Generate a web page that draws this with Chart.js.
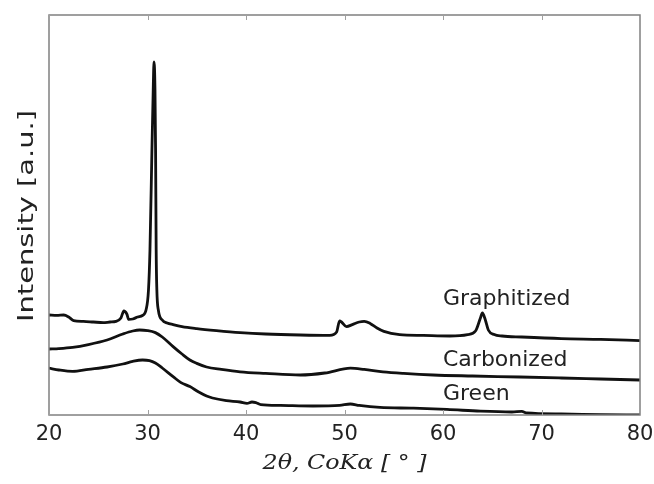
<!DOCTYPE html>
<html><head><meta charset="utf-8">
<script src="https://cdn.jsdelivr.net/npm/chart.js@4"></script>
<style>html,body{margin:0;padding:0;background:#fff}</style>
</head><body>
<canvas id="c" width="654" height="484"></canvas>
<script>
// ---- data ----
const xTickValues = [20, 30, 40, 50, 60, 70, 80];
const seriesNames = ['Graphitized', 'Carbonized', 'Green'];

const graphitizedX = [20.0,20.8,21.5,22.0,22.5,23.5,24.5,25.5,26.2,26.8,27.3,27.6,27.9,28.1,28.5,29.0,29.5,29.85,30.1,30.25,30.45,30.58,30.66,30.76,30.82,30.88,30.95,31.1,31.5,32.0,32.6,33.5,35.0,37.0,39.4,42.0,45.5,48.5,49.2,49.5,49.7,50.2,50.8,51.5,52.0,52.6,53.3,54.0,55.6,58.0,60.7,62.5,63.3,63.8,64.0,64.3,64.6,65.2,66.0,68.0,72.0,76.0,80.0];
const graphitizedY = [25,24.9,25,24.5,23.6,23.4,23.25,23.1,23.25,23.4,24.25,26,25.25,23.9,24,24.5,24.9,26.25,31.25,41.25,66.25,81.25,88.25,81.25,66.25,41.25,31.25,26.25,23.75,23,22.6,22.1,21.6,21.1,20.6,20.25,20,19.9,20.75,23.5,23.25,22.1,22.6,23.25,23.4,22.9,21.75,20.9,20.1,19.9,19.75,20.1,21,24.25,25.5,23.75,21.25,20.1,19.75,19.5,19.1,18.9,18.6];

const carbonizedX = [20,21.0,22.4,24.0,25.9,27.5,28.5,29.2,30.0,30.8,31.5,32.6,33.5,34.3,35.0,36.0,37.5,39.4,42.0,45.5,48.0,50.6,52.0,53.9,56.0,59.0,63.0,67.8,72.0,76.0,80.0];
const carbonizedY = [16.5,16.6,16.9,17.6,18.75,20.25,21,21.25,21.1,20.6,19.5,17.1,15.25,13.75,12.9,12,11.4,10.8,10.4,10,10.5,11.7,11.4,10.8,10.4,10,9.75,9.5,9.25,9,8.75];

const greenX = [20,21.0,22.4,24.0,25.9,27.5,28.5,29.5,30.2,30.8,31.5,32.6,33.4,34.3,35.2,36.0,36.6,38.0,39.4,40.1,40.6,41.0,41.5,43.5,46.8,49.5,50.6,51.5,53.6,57.0,60.4,63.8,67.0,68.0,68.5,72.0,76.0,80.0];
const greenY = [11.7,11.25,10.9,11.4,12,12.75,13.4,13.75,13.6,13,11.75,9.6,8.1,7.1,5.75,4.75,4.25,3.6,3.25,2.9,3.25,3.1,2.6,2.4,2.25,2.4,2.75,2.4,1.9,1.7,1.4,0.95,0.75,0.9,0.5,0.25,0.1,0];

const xTitle = '2θ, CoKα [ ° ]';
const yTitle = 'Intensity [a.u.]';

// ---- build ----
const toPts = (xs, ys) => xs.map((x, i) => ({x, y: ys[i]}));
const seriesData = [toPts(graphitizedX, graphitizedY), toPts(carbonizedX, carbonizedY), toPts(greenX, greenY)];

// label anchors (data coordinates) for the in-plot series names
const labelAnchors = [{x: 60, y: 27.5}, {x: 60, y: 12.3}, {x: 60, y: 3.75}];

const framePlugin = {
  id: 'frame',
  afterDatasetsDraw(chart) {
    const {ctx, chartArea: a, scales} = chart;
    ctx.save();
    ctx.strokeStyle = '#808080';
    ctx.lineWidth = 1.5;
    ctx.strokeRect(a.left, a.top, a.right - a.left, a.bottom - a.top);
    ctx.lineWidth = 1;
    ctx.strokeStyle = '#a0a0a0';
    scales.x.ticks.forEach(t => {
      const px = Math.round(scales.x.getPixelForValue(t.value)) + 0.5;
      ctx.beginPath();
      ctx.moveTo(px, a.bottom); ctx.lineTo(px, a.bottom - 5);
      ctx.moveTo(px, a.top); ctx.lineTo(px, a.top + 5);
      ctx.stroke();
    });
    // series names
    ctx.fillStyle = '#222';
    ctx.font = '22px "DejaVu Sans"';
    ctx.textAlign = 'left';
    ctx.textBaseline = 'alphabetic';
    seriesNames.forEach((n, i) => {
      ctx.fillText(n, scales.x.getPixelForValue(labelAnchors[i].x), scales.y.getPixelForValue(labelAnchors[i].y));
    });
    ctx.restore();

    // y axis title (rotated)
    ctx.save();
    ctx.fillStyle = '#222';
    ctx.font = '21px "DejaVu Sans"';
    ctx.textAlign = 'center';
    ctx.textBaseline = 'alphabetic';
    const yc = (a.top + a.bottom) / 2 + 1;
    ctx.translate(33, yc);
    ctx.rotate(-Math.PI / 2);
    const wy = ctx.measureText(yTitle).width;
    ctx.scale(212 / wy, 1);
    ctx.fillText(yTitle, 0, 0);
    ctx.restore();

    // x axis title
    ctx.save();
    ctx.fillStyle = '#222';
    ctx.font = 'italic 20px "DejaVu Serif"';
    ctx.textAlign = 'center';
    ctx.textBaseline = 'alphabetic';
    const xc = (a.left + a.right) / 2;
    ctx.translate(xc, 469);
    const wx = ctx.measureText(xTitle).width;
    ctx.scale(164 / wx, 1);
    ctx.fillText(xTitle, 0, 0);
    ctx.restore();
  }
};

new Chart(document.getElementById('c'), {
  type: 'line',
  data: {
    datasets: seriesData.map((d, i) => ({
      label: seriesNames[i],
      data: d,
      borderColor: '#111',
      borderWidth: 2.8,
      pointRadius: 0,
      fill: false,
      cubicInterpolationMode: 'monotone'
    }))
  },
  options: {
    responsive: false,
    animation: false,
    devicePixelRatio: 1,
    layout: {padding: {top: 15, right: 14, left: 0, bottom: 0}},
    plugins: {legend: {display: false}, tooltip: {enabled: false}},
    scales: {
      x: {
        type: 'linear', min: 20, max: 80,
        afterBuildTicks: s => { s.ticks = xTickValues.map(v => ({value: v})); },
        afterFit: s => { s.height = 69; s.paddingLeft = 0; s.paddingRight = 0; },
        grid: {display: false, drawTicks: false},
        border: {display: false},
        ticks: {font: {size: 21, family: 'DejaVu Sans'}, color: '#222', padding: 7, maxRotation: 0, autoSkip: false},
        title: {display: false}
      },
      y: {
        min: 0, max: 100,
        afterFit: s => { s.width = 49; s.paddingTop = 0; s.paddingBottom = 0; },
        grid: {display: false, drawTicks: false},
        border: {display: false},
        ticks: {display: false},
        title: {display: false}
      }
    }
  },
  plugins: [framePlugin]
});
</script>
</body></html>
